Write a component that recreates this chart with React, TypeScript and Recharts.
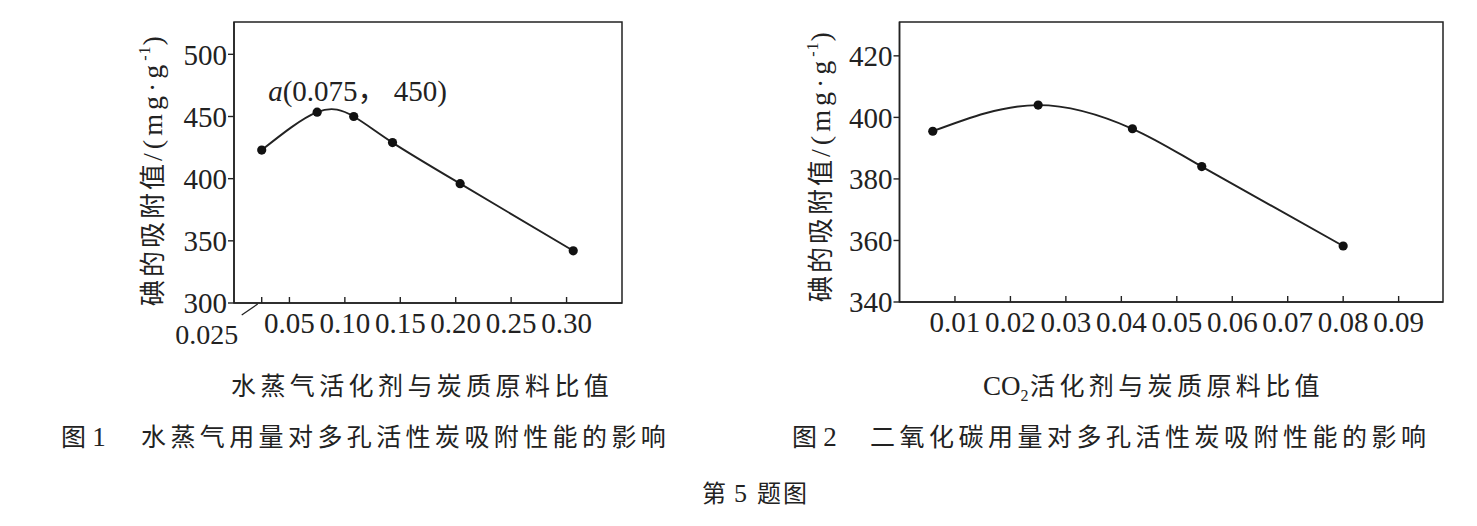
import React from 'react';
import { LineChart, Line, XAxis, YAxis, ReferenceArea, LabelList } from 'recharts';

// 图1：水蒸气活化剂与炭质原料比值 -> 碘吸附值
const steamRatio = [0.025, 0.075, 0.108, 0.143, 0.204, 0.306];
const steamIodine = [423, 453.5, 450, 429, 396, 342];
const steamXTicks = [0.025, 0.05, 0.1, 0.15, 0.2, 0.25, 0.3];
const steamXTickLabels = ['0.025', '0.05', '0.10', '0.15', '0.20', '0.25', '0.30'];
const steamYTicks = [300, 350, 400, 450, 500];

// 图2：CO2 活化剂与炭质原料比值 -> 碘吸附值
const co2Ratio = [0.006, 0.025, 0.042, 0.0545, 0.08];
const co2Iodine = [395.5, 404, 396.3, 384, 358.2];
const co2XTicks = [0.01, 0.02, 0.03, 0.04, 0.05, 0.06, 0.07, 0.08, 0.09];
const co2XTickLabels = ['0.01', '0.02', '0.03', '0.04', '0.05', '0.06', '0.07', '0.08', '0.09'];
const co2YTicks = [340, 360, 380, 400, 420];

const annotText = '(0.075， 450)';

const SERIF = "'Liberation Serif', 'Noto Sans CJK SC', serif";
const INK = '#222';
const TICK_FONT = 29;

const steamData = steamRatio.map((x, i) => ({ x, y: steamIodine[i] }));
const co2Data = co2Ratio.map((x, i) => ({ x, y: co2Iodine[i] }));

const makeXTick = (ticks: number[], labels: string[]) => (props: any) => {
  const { x, y, payload } = props;
  const i = ticks.indexOf(payload.value);
  const label = labels[i] ?? String(payload.value);
  if (label === '0.025') {
    // broken-axis style: label sits below-left with a short leader line
    return (
      <g>
        <line x1={x} y1={y} x2={x} y2={y - 6} stroke={INK} strokeWidth={1.4} />
        <line x1={x - 20} y1={y + 12} x2={x - 4} y2={y + 1} stroke={INK} strokeWidth={1.3} />
        <text x={x - 55} y={y + 41} textAnchor="middle" fontSize={28} fill={INK} fontFamily={SERIF}>{label}</text>
      </g>
    );
  }
  return (
    <g>
      <line x1={x} y1={y} x2={x} y2={y - 6} stroke={INK} strokeWidth={1.4} />
      <text x={x} y={y + 30} textAnchor="middle" fontSize={TICK_FONT} fill={INK} fontFamily={SERIF}>{label}</text>
    </g>
  );
};

const yTickStyle = { fontSize: TICK_FONT, fill: INK, fontFamily: SERIF };

const renderAnnot = (p: any) => {
  if (p.index !== 1) return null;
  return (
    <text x={p.x - 49} y={p.y - 11} fontSize={29} fill={INK} fontFamily={SERIF}>
      <tspan fontStyle="italic">a</tspan>
      {annotText}
    </text>
  );
};

const YLabel = ({ cx, cy }: { cx: number; cy: number }) => (
  <text
    x={cx}
    y={cy + 9}
    transform={`rotate(-90, ${cx}, ${cy})`}
    textAnchor="middle"
    fill={INK}
    fontFamily={SERIF}
  >
    <tspan fontSize={26} letterSpacing={3}>碘的吸附值</tspan>
    <tspan fontSize={28} letterSpacing={4}>/(mg·g</tspan>
    <tspan dy={-12} fontSize={16} letterSpacing={1}>-1</tspan>
    <tspan dy={12} fontSize={28}>)</tspan>
  </text>
);

export default function App() {
  return (
    <div style={{ position: 'absolute', left: 0, top: 0, width: 1477, height: 526, background: '#fff' }}>
      <div style={{ position: 'absolute', left: 0, top: 0 }}>
        <LineChart width={680} height={360} data={steamData} margin={{ top: 22, right: 58, left: 174, bottom: 27 }}>
          <XAxis
            dataKey="x"
            type="number"
            domain={[0, 0.35]}
            ticks={steamXTicks}
            interval={0}
            allowDataOverflow
            height={30}
            tickSize={0}
            tickMargin={0}
            tickLine={false}
            axisLine={{ stroke: INK, strokeWidth: 1.5 }}
            tick={makeXTick(steamXTicks, steamXTickLabels)}
          />
          <YAxis
            type="number"
            domain={[300, 526]}
            ticks={steamYTicks}
            interval={0}
            allowDataOverflow
            width={60}
            tickSize={6}
            tickMargin={1}
            tickLine={{ stroke: INK, strokeWidth: 1.4 }}
            axisLine={{ stroke: INK, strokeWidth: 1.5 }}
            tick={yTickStyle}
          />
          <ReferenceArea x1={0} x2={0.35} y1={300} y2={526} fill="none" stroke={INK} strokeWidth={1.5} />
          <Line
            type="natural"
            dataKey="y"
            stroke={INK}
            strokeWidth={1.9}
            dot={{ r: 4.6, fill: '#111', stroke: '#111', strokeWidth: 0 }}
            isAnimationActive={false}
          >
            <LabelList dataKey="y" content={renderAnnot} />
          </Line>
        </LineChart>
      </div>
      <div style={{ position: 'absolute', left: 740, top: 0 }}>
        <LineChart width={737} height={360} data={co2Data} margin={{ top: 22, right: 34, left: 99.5, bottom: 28 }}>
          <XAxis
            dataKey="x"
            type="number"
            domain={[0, 0.098]}
            ticks={co2XTicks}
            interval={0}
            allowDataOverflow
            height={30}
            tickSize={0}
            tickMargin={0}
            tickLine={false}
            axisLine={{ stroke: INK, strokeWidth: 1.5 }}
            tick={makeXTick(co2XTicks, co2XTickLabels)}
          />
          <YAxis
            type="number"
            domain={[340, 431]}
            ticks={co2YTicks}
            interval={0}
            allowDataOverflow
            width={60}
            tickSize={6}
            tickMargin={1}
            tickLine={{ stroke: INK, strokeWidth: 1.4 }}
            axisLine={{ stroke: INK, strokeWidth: 1.5 }}
            tick={yTickStyle}
          />
          <ReferenceArea x1={0} x2={0.098} y1={340} y2={431} fill="none" stroke={INK} strokeWidth={1.5} />
          <Line
            type="natural"
            dataKey="y"
            stroke={INK}
            strokeWidth={1.9}
            dot={{ r: 4.6, fill: '#111', stroke: '#111', strokeWidth: 0 }}
            isAnimationActive={false}
          />
        </LineChart>
      </div>
      <svg width={1477} height={526} style={{ position: 'absolute', left: 0, top: 0, pointerEvents: 'none' }}>
        <YLabel cx={153} cy={171} />
        <YLabel cx={821} cy={167} />
        <text x={231} y={395} fontSize={25} letterSpacing={4.4} fill={INK} fontFamily={SERIF}>
          水蒸气活化剂与炭质原料比值
        </text>
        <text x={983} y={395} fontSize={27} fill={INK} fontFamily={SERIF}>
          CO<tspan dy={6} fontSize={16}>2</tspan>
        </text>
        <text x={1030} y={395} fontSize={25} letterSpacing={4.4} fill={INK} fontFamily={SERIF}>
          活化剂与炭质原料比值
        </text>
        <text y={446} fontSize={25} fill={INK} fontFamily={SERIF}>
          <tspan x={61}>图 </tspan>
          <tspan fontSize={27}>1</tspan>
          <tspan x={141} letterSpacing={4.4}>水蒸气用量对多孔活性炭吸附性能的影响</tspan>
        </text>
        <text y={446} fontSize={25} fill={INK} fontFamily={SERIF}>
          <tspan x={792}>图 </tspan>
          <tspan fontSize={27}>2</tspan>
          <tspan x={870} letterSpacing={4.5}>二氧化碳用量对多孔活性炭吸附性能的影响</tspan>
        </text>
        <text y={502} fontSize={24} fill={INK} fontFamily={SERIF}>
          <tspan x={702}>第</tspan>
          <tspan x={734} fontSize={26}>5</tspan>
          <tspan x={757} letterSpacing={2}>题图</tspan>
        </text>
      </svg>
    </div>
  );
}
